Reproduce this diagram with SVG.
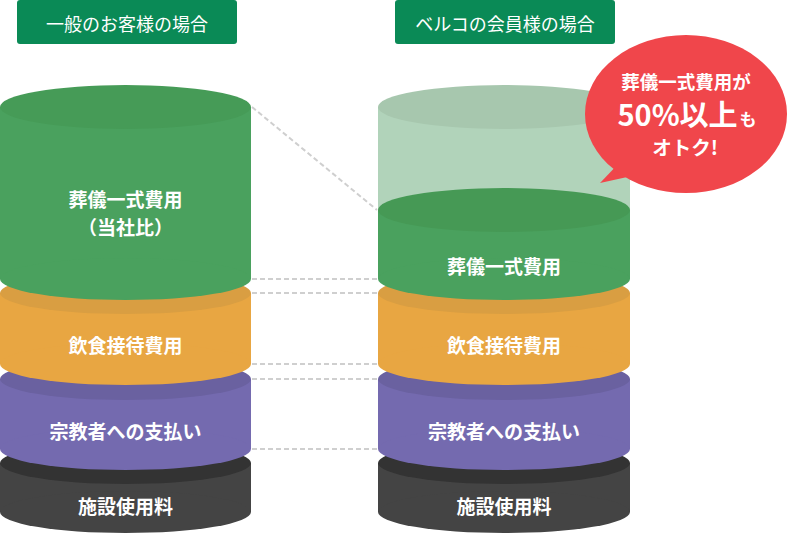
<svg xmlns="http://www.w3.org/2000/svg" width="787" height="535" viewBox="0 0 787 535">
<style>
text{font-family:"Noto Sans CJK JP","Noto Sans",sans-serif;fill:#fff;text-anchor:middle}
.hd{font-size:18px}
.lb{font-size:19px;font-weight:700}
.bb{font-weight:700}
.dash{stroke:#cfcfcf;stroke-width:2;stroke-dasharray:5 3;fill:none}
</style>
<rect width="787" height="535" fill="#fff"/>
<g id="header-left"><rect x="17" y="0" width="220" height="44" rx="3" fill="#0a8a56"/><text class="hd" x="127" y="31">一般のお客様の場合</text></g>
<g id="header-right"><rect x="395" y="0" width="220" height="44" rx="3" fill="#0a8a56"/><text class="hd" x="505" y="31">ベルコの会員様の場合</text></g>

<g id="connectors">
<line class="dash" x1="252" y1="107" x2="377" y2="210"/>
<line class="dash" x1="252" y1="279" x2="377" y2="279"/>
<line class="dash" x1="252" y1="293" x2="377" y2="293"/>
<line class="dash" x1="252" y1="364" x2="377" y2="364"/>
<line class="dash" x1="252" y1="379" x2="377" y2="379"/>
<line class="dash" x1="252" y1="449" x2="377" y2="449"/>
</g>

<g id="left-facility">
<rect x="0" y="463" width="251" height="49" fill="#444"/><ellipse cx="125.5" cy="512" rx="125.5" ry="21" fill="#444"/><ellipse cx="125.5" cy="463" rx="125.5" ry="21" fill="#333"/>
<text class="lb" x="125.5" y="514">施設使用料</text></g>
<g id="left-religious">
<rect x="0" y="379" width="251" height="70" fill="#746aaf"/><ellipse cx="125.5" cy="449" rx="125.5" ry="21" fill="#746aaf"/><ellipse cx="125.5" cy="379" rx="125.5" ry="21" fill="#6a61a0"/>
<text class="lb" x="125.5" y="439">宗教者への支払い</text></g>
<g id="left-food">
<rect x="0" y="293" width="251" height="71" fill="#e8a642"/><ellipse cx="125.5" cy="364" rx="125.5" ry="21" fill="#e8a642"/><ellipse cx="125.5" cy="293" rx="125.5" ry="21" fill="#d99e42"/>
<text class="lb" x="125.5" y="353">飲食接待費用</text></g>
<g id="left-funeral">
<rect x="0" y="107" width="251" height="172" fill="#4aa15e"/><ellipse cx="125.5" cy="279" rx="125.5" ry="21" fill="#4aa15e"/><ellipse cx="125.5" cy="107" rx="125.5" ry="22" fill="#469b57"/>
<text class="lb" x="125.5" y="207">葬儀一式費用</text><text class="lb" x="125.5" y="235">（当社比）</text></g>

<g id="right-facility">
<rect x="378" y="463" width="252" height="49" fill="#444"/><ellipse cx="504" cy="512" rx="126" ry="21" fill="#444"/><ellipse cx="504" cy="463" rx="126" ry="21" fill="#333"/>
<text class="lb" x="504" y="514">施設使用料</text></g>
<g id="right-religious">
<rect x="378" y="379" width="252" height="70" fill="#746aaf"/><ellipse cx="504" cy="449" rx="126" ry="21" fill="#746aaf"/><ellipse cx="504" cy="379" rx="126" ry="21" fill="#6a61a0"/>
<text class="lb" x="504" y="439">宗教者への支払い</text></g>
<g id="right-food">
<rect x="378" y="293" width="252" height="71" fill="#e8a642"/><ellipse cx="504" cy="364" rx="126" ry="21" fill="#e8a642"/><ellipse cx="504" cy="293" rx="126" ry="21" fill="#d99e42"/>
<text class="lb" x="504" y="353">飲食接待費用</text></g>
<g id="right-saved">
<rect x="378" y="107" width="252" height="103" fill="#b1d3ba"/><ellipse cx="504" cy="107" rx="126" ry="22" fill="#a7c7ae"/></g>
<g id="right-funeral">
<rect x="378" y="210" width="252" height="69" fill="#4aa15e"/><ellipse cx="504" cy="279" rx="126" ry="21" fill="#4aa15e"/><ellipse cx="504" cy="210" rx="126" ry="22" fill="#469955"/>
<text class="lb" x="504" y="274">葬儀一式費用</text></g>

<g id="bubble">
<path d="M600,183 L622,160 L650,172 Z" fill="#f0464b"/>
<ellipse cx="686" cy="114" rx="101" ry="79" fill="#f0464b"/>
<text class="bb" x="686" y="89" font-size="18.5">葬儀一式費用が</text>
<text class="bb" x="687" y="126" font-size="29"><tspan>50%以上</tspan><tspan font-size="17" dx="2">も</tspan></text>
<text class="bb" x="685" y="155" font-size="19.5">オトク!</text>
</g>
</svg>
